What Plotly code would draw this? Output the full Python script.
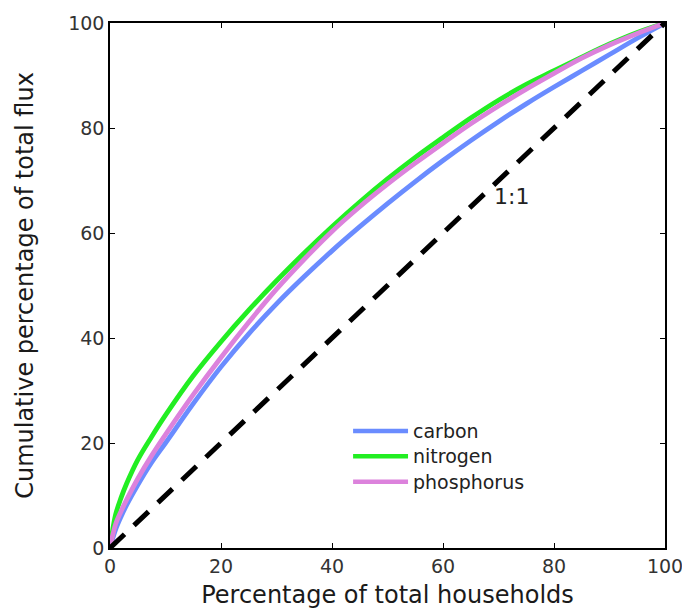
import plotly.graph_objects as go

# ---- data ----
households = [0, 1, 2, 3, 5, 7.5, 10, 15, 20, 25, 30, 35, 40, 45, 50, 55, 60, 65, 70, 75, 80, 85, 90, 95, 100]
carbon = [0, 3.5, 6, 8.2, 12, 16.3, 20, 27.5, 34.5, 40.8, 46.5, 51.7, 56.6, 61.2, 65.6, 69.8, 73.8, 77.6, 81.2, 84.6, 87.8, 90.9, 94, 97.1, 100]
nitrogen = [0, 6.3, 9.6, 12.3, 16.8, 21.2, 25.3, 32.8, 39.3, 45.3, 50.9, 56.2, 61.2, 65.9, 70.3, 74.4, 78.2, 81.9, 85.3, 88.3, 90.9, 93.5, 96, 98.2, 100]
phosphorus = [0, 4.5, 7, 9.2, 13.2, 17.6, 21.6, 29.2, 36.3, 43, 49.3, 55, 60.3, 65, 69.3, 73.3, 77.1, 80.8, 84.2, 87.4, 90.4, 93.3, 95.8, 98, 100]
series_names = ["carbon", "nitrogen", "phosphorus"]
series_colors = ["#6a8cff", "#22ee22", "#dc82dc"]
one_to_one_x = [0, 100]
one_to_one_y = [0, 100]
one_to_one_label = "1:1"
one_to_one_label_pos = (72.4, 66.9)
x_ticks = [0, 20, 40, 60, 80, 100]
y_ticks = [0, 20, 40, 60, 80, 100]

FONT = "DejaVu Sans"

fig = go.Figure()
for name, vals, col in zip(series_names, [carbon, nitrogen, phosphorus], series_colors):
    fig.add_trace(go.Scatter(x=households, y=vals, mode="lines", name=name,
                             line=dict(color=col, width=4.8, shape="spline", smoothing=1.0),
                             showlegend=False))
fig.add_trace(go.Scatter(x=one_to_one_x, y=one_to_one_y, mode="lines", name="1:1",
                         line=dict(color="black", width=5, dash="20px,13px"),
                         showlegend=False))

fig.add_annotation(x=one_to_one_label_pos[0], y=one_to_one_label_pos[1], text=one_to_one_label,
                   showarrow=False, font=dict(family=FONT, size=22, color="#222"))

# manual legend (long line swatches like the reference)
leg_y = [0.223, 0.175, 0.126]
for name, col, yy in zip(series_names, series_colors, leg_y):
    fig.add_shape(type="line", xref="paper", yref="paper", x0=0.438, x1=0.537, y0=yy, y1=yy,
                  line=dict(color=col, width=4.5))
    fig.add_annotation(xref="paper", yref="paper", x=0.542, y=yy, text=name, showarrow=False,
                       xanchor="left", yanchor="middle", font=dict(family=FONT, size=19, color="#222"))

axis_common = dict(range=[0, 100], showgrid=False, zeroline=False, showline=True, linecolor="black",
                   linewidth=1.5, mirror="ticks", ticks="inside", ticklen=5, tickwidth=1, tickcolor="black",
                   tickfont=dict(family=FONT, size=19, color="#333"), automargin=False)

fig.update_xaxes(**axis_common, tickvals=x_ticks, ticklabeloverflow="allow",
                 title=dict(text="Percentage of total households", font=dict(family=FONT, size=24, color="#1a1a1a"),
                            standoff=13))
fig.update_yaxes(**axis_common, tickvals=y_ticks,
                 title=dict(text="Cumulative percentage of total flux", font=dict(family=FONT, size=24, color="#1a1a1a"),
                            standoff=28))

fig.update_layout(width=682, height=609, margin=dict(l=110, r=17, t=23, b=61),
                  paper_bgcolor="white", plot_bgcolor="white", showlegend=False)

fig.write_html("out.html", config={"displayModeBar": False},
               post_script="document.body.style.margin='0';document.body.style.overflow='hidden';")
